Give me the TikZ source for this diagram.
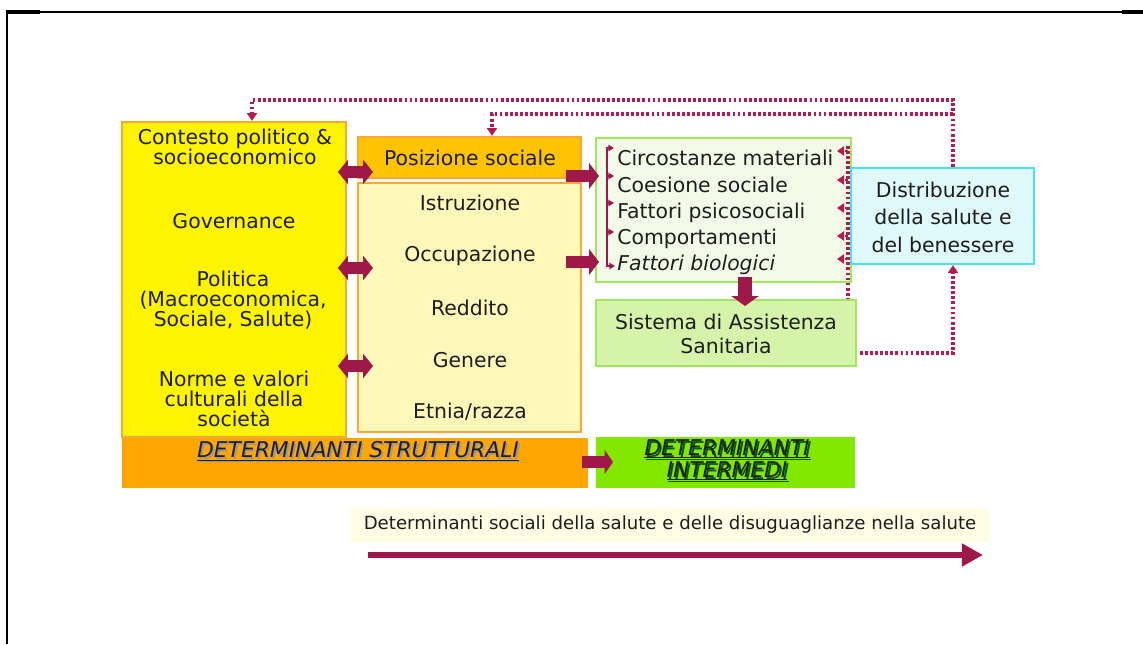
\documentclass[tikz,border=0pt]{standalone}
\usepackage{fontspec}
\setmainfont{DejaVu Sans}
\usetikzlibrary{arrows.meta,calc}
\definecolor{yelF}{RGB}{255,244,0}
\definecolor{oraB}{RGB}{247,170,50}
\definecolor{posF}{RGB}{255,196,0}
\definecolor{lyF}{RGB}{255,248,185}
\definecolor{grB}{RGB}{160,232,90}
\definecolor{intF}{RGB}{243,251,232}
\definecolor{sisF}{RGB}{214,243,170}
\definecolor{cyB}{RGB}{70,226,242}
\definecolor{cyF}{RGB}{224,250,252}
\definecolor{dsF}{RGB}{255,166,0}
\definecolor{diF}{RGB}{130,232,0}
\definecolor{crim}{RGB}{158,24,74}
\definecolor{dotc}{RGB}{180,28,78}
\definecolor{cream}{RGB}{255,253,228}
\definecolor{txtc}{RGB}{30,30,30}
\newcommand\shtxt[2]{\makebox[0pt][l]{\kern1.3pt\raisebox{-1.3pt}{\color{#1}\underline{#2}}}\underline{#2}}
\begin{document}
\begin{tikzpicture}[x=0.025cm,y=-0.025cm,
  box/.style={draw, line width=1.6pt, inner sep=0pt},
  txt/.style={text=txtc, align=center, inner sep=0pt, font=\fontsize{14.5}{14.2}\selectfont},
  item/.style={text=txtc, anchor=west, inner sep=0pt, font=\fontsize{14.5}{14.2}\selectfont, text height=10.5pt, text depth=3pt},
  dett/.style={text=black!88, align=center, inner sep=0pt, font=\fontsize{15.5}{13.8}\selectfont\itshape},
  fat/.style={draw=crim, line width=8.5pt},
  fatr/.style={fat, -{Triangle[length=7pt,width=18pt]}},
  fatd/.style={fat, {Triangle[length=7pt,width=17pt]}-{Triangle[length=7pt,width=17pt]}},
  dot/.style={draw=dotc, line width=2.7pt, dash pattern=on 2pt off 1.6pt},
  dtip/.style={-{Triangle[length=5.5pt,width=7pt]}},
  brk/.style={draw=crim, line width=1.3pt}]
\useasboundingbox (0,0) rectangle (1143,644);
\fill[white] (0,0) rectangle (1143,644);
% frame
\draw[line width=1.6pt] (7,644) -- (7,12);
\draw[line width=0.9pt] (7,12) -- (1143,12);
\draw[line width=2.4pt] (6,12) -- (40,12);
\draw[line width=2.4pt] (1122,12) -- (1143,12);

% boxes
\node[box, draw=oraB, fill=yelF, minimum width=224*0.025cm, minimum height=315*0.025cm] (left) at (234,279.5) {};
\node[box, draw=oraB, fill=posF, minimum width=223*0.025cm, minimum height=41*0.025cm] (pos) at (469.5,157.5) {};
\node[box, draw=oraB, fill=lyF, minimum width=223*0.025cm, minimum height=249*0.025cm] (mid) at (469.5,307.5) {};
\node[box, draw=grB, fill=intF, minimum width=255*0.025cm, minimum height=144*0.025cm] (inter) at (723.5,210) {};
\node[box, draw=grB, fill=sisF, minimum width=260*0.025cm, minimum height=66*0.025cm] (sis) at (726,333) {};
\node[box, draw=cyB, fill=cyF, minimum width=183*0.025cm, minimum height=96*0.025cm] (dist) at (942.5,216) {};
\node[fill=dsF, inner sep=0pt, minimum width=466*0.025cm, minimum height=50*0.025cm] (ds) at (355,463) {};
\node[fill=diF, inner sep=0pt, minimum width=259*0.025cm, minimum height=51*0.025cm] (di) at (725.5,462.5) {};
\node[fill=cream, inner sep=0pt, minimum width=640*0.025cm, minimum height=34*0.025cm] (cr) at (670,525) {};

% left texts
\node[txt] (t1) at (235,147) {Contesto politico \&\\socioeconomico};
\node[txt] (t2) at (234,221) {Governance};
\node[txt] (t3) at (233,300) {Politica\\(Macroeconomica,\\Sociale, Salute)};
\node[txt] (t4) at (234,399) {Norme e valori\\culturali della\\società};
% middle texts
\node[txt] (m0) at (470,158) {Posizione sociale};
\node[txt] (m1) at (470,203) {Istruzione};
\node[txt] (m2) at (470,256) {Occupazione};
\node[txt] (m3) at (470,308) {Reddito};
\node[txt] (m4) at (470,360) {Genere};
\node[txt] (m5) at (470,412) {Etnia/razza};
% intermediate items
\node[item] (i1) at (617,160) {Circostanze materiali};
\node[item] (i2) at (617,187) {Coesione sociale};
\node[item] (i3) at (617,213) {Fattori psicosociali};
\node[item] (i4) at (617,239) {Comportamenti};
\node[item] (i5) at (617,265) {\itshape Fattori biologici};
\node[txt, font=\fontsize{14.5}{17}\selectfont] (s1) at (726,334) {Sistema di Assistenza\\Sanitaria};
\node[txt, font=\fontsize{14.5}{19.5}\selectfont] (d1) at (943,217) {Distribuzione\\della salute e\\del benessere};
% determinanti
\node[dett] (dst) at (358,452) {\shtxt{black!40}{DETERMINANTI STRUTTURALI}};
\node[dett] (dit) at (727,461) {\shtxt{green!35!black}{DETERMINANTI}\\\shtxt{green!35!black}{INTERMEDI}};
\node[text=txtc, inner sep=0pt, font=\fontsize{12.9}{14}\selectfont] (bt) at (670,524) {Determinanti sociali della salute e delle disuguaglianze nella salute};

% coordinates
\coordinate (a1l) at (338,172); \coordinate (a1r) at (373,172);
\coordinate (a2l) at (338,268); \coordinate (a2r) at (373,268);
\coordinate (a3l) at (338,366); \coordinate (a3r) at (373,366);
\coordinate (b1l) at (566,176); \coordinate (b1r) at (599,176);
\coordinate (b2l) at (566,262); \coordinate (b2r) at (599,262);
\coordinate (cdt) at (745,277); \coordinate (cdb) at (745,306);
\coordinate (el) at (582,462); \coordinate (er) at (613,462);
\coordinate (fx) at (953,0);
\coordinate (c1) at (252,100);
\coordinate (c2) at (953,114);
\coordinate (c3) at (492,0);
\coordinate (c4) at (860,353);
\coordinate (rv) at (848,146);
\coordinate (ba) at (368,555); \coordinate (bb) at (983,555);

% fat arrows
\draw[fatd] (a1l) -- (a1r);
\draw[fatd] (a2l) -- (a2r);
\draw[fatd] (a3l) -- (a3r);
\draw[fatr] (b1l) -- (b1r);
\draw[fatr] (b2l) -- (b2r);
\draw[fat, line width=10pt, -{Triangle[length=7pt,width=19pt]}] (cdt) -- (cdb);
\draw[fat, line width=8pt, -{Triangle[length=6pt,width=17pt]}] (el) -- (er);
\draw[draw=crim, line width=4.3pt, -{Triangle[length=15pt,width=15.5pt]}] (ba) -- (bb);

% feedback dotted lines
\draw[dot, dtip] (dist.north -| fx) |- (c1) -- (left.north -| c1);
\draw[dot, dtip] (c2) -| (pos.north -| c3);
\draw[dot, dtip] (c4) -| (dist.south -| fx);
\draw[dot] (rv) -- (sis.north -| rv);
\foreach \yy in {151,180,208,236,259} {
  \draw[dot, line width=2pt, -{Triangle[length=5pt,width=6.5pt]}] (848,\yy) -- (837,\yy);
}
% left bracket
\draw[brk, {Triangle[length=4pt,width=4.5pt]}-{Triangle[length=4pt,width=4.5pt]}] (614,148) -- (607,148) -- (607,266) -- (615,266);
\foreach \yy in {176,203,232} {
  \draw[brk, -{Triangle[length=4pt,width=4.5pt]}] (607,\yy) -- (614,\yy);
}
\end{tikzpicture}
\end{document}
